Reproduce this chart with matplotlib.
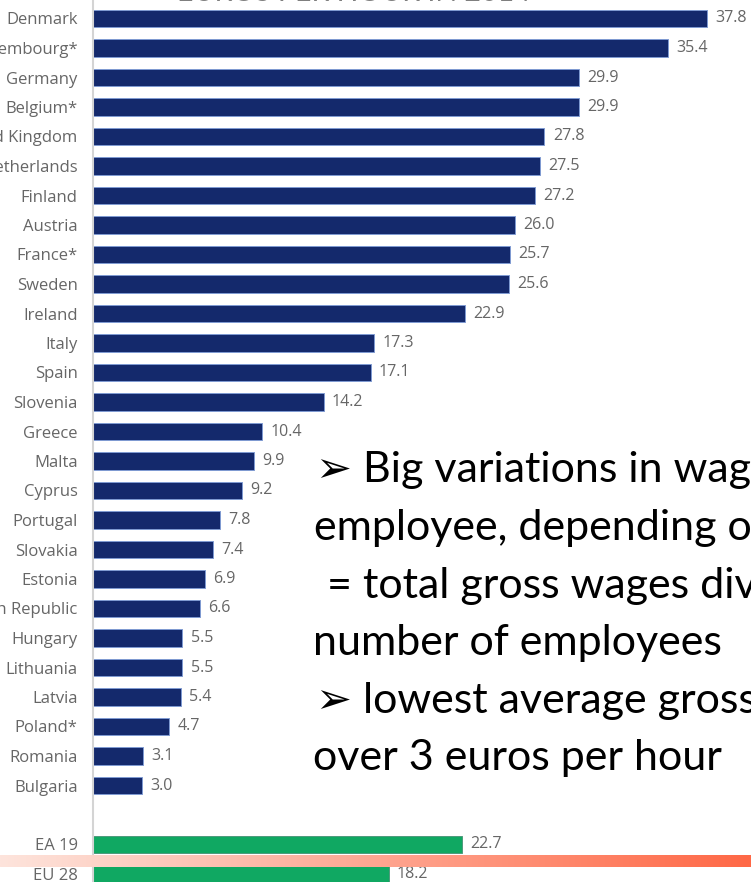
import numpy as np
import matplotlib
matplotlib.use("Agg")
import matplotlib.pyplot as plt

W, H, DPI = 751, 882, 100

countries = ["Denmark", "Luxembourg*", "Germany", "Belgium*", "United Kingdom",
             "Netherlands", "Finland", "Austria", "France*", "Sweden", "Ireland",
             "Italy", "Spain", "Slovenia", "Greece", "Malta", "Cyprus", "Portugal",
             "Slovakia", "Estonia", "Czech Republic", "Hungary", "Lithuania",
             "Latvia", "Poland*", "Romania", "Bulgaria"]
wages = [37.8, 35.4, 29.9, 29.9, 27.8, 27.5, 27.2, 26.0, 25.7, 25.6, 22.9,
         17.3, 17.1, 14.2, 10.4, 9.9, 9.2, 7.8, 7.4, 6.9, 6.6, 5.5, 5.5, 5.4,
         4.7, 3.1, 3.0]
aggregates = ["EA 19", "EU 28"]
aggregate_wages = [22.7, 18.2]

title = "EUROS PER HOUR IN 2014"
bullet_lines = ["\u27a2 Big variations in wages per",
                "employee, depending on country",
                " = total gross wages divided by",
                "number of employees",
                "\u27a2 lowest average gross wage just",
                "over 3 euros per hour"]

navy = "#14296c"
navy_edge = "#7f9bd2"
green = "#10a862"
green_edge = "#4f9a7c"
grey_text = "#666666"
label_font = ["Open Sans", "DejaVu Sans"]
body_font = ["Lato", "DejaVu Sans"]

fig = plt.figure(figsize=(W / DPI, H / DPI), dpi=DPI)
fig.patch.set_facecolor("white")

# chart axes: bars start at x=93 px, fill the rest of the width
ax_left = 93 / W
ax = fig.add_axes([ax_left, 0, 1 - ax_left, 1])
px_per_unit = 16.24
ax.set_xlim(0, (W - 93) / px_per_unit)
row0, step = 18.5, 29.5
ax.set_ylim((H - row0) / step, -row0 / step)

pos_c = np.arange(len(countries))
pos_a = np.array([len(countries) + 1, len(countries) + 2])

ax.barh(pos_c, wages, height=0.59, color=navy, edgecolor=navy_edge, linewidth=0.7)
ax.barh(pos_a, aggregate_wages, height=0.59, color=green, edgecolor=green_edge, linewidth=0.7)

for p, v in list(zip(pos_c, wages)) + list(zip(pos_a, aggregate_wages)):
    ax.annotate(f"{v:.1f}", (v, p), xytext=(6, 0), textcoords="offset points",
                ha="left", va="center", fontsize=11.5, color=grey_text, family=label_font)

ax.set_yticks(np.concatenate([pos_c, pos_a]))
ax.set_yticklabels(countries + aggregates, fontsize=12, color=grey_text, family=label_font)
ax.tick_params(axis="y", length=0, pad=11)
ax.set_xticks([])
for s in ["top", "right", "bottom"]:
    ax.spines[s].set_visible(False)
ax.spines["left"].set_color("#d4d4d4")
ax.spines["left"].set_linewidth(1.5)

# chart title, mostly above the visible area
fig.text(354 / W, 1 - 1 / H, title, ha="center", va="baseline",
         fontsize=20.5, color="#7f7f7f", family=body_font)

# bullet text on top of the chart
x_starts = [316, 314, 316, 313, 316, 313]
baselines = [482, 540, 598, 655, 713, 770]
for txt, x0, yb in zip(bullet_lines, x_starts, baselines):
    fig.text(x0 / W, 1 - yb / H, txt, ha="left", va="baseline",
             fontsize=31, color="black", family=body_font)

# orange gradient band near the bottom
band = fig.add_axes([0, 1 - 867 / H, 1, 12 / H])
grad = np.linspace(0, 1, 256)
c0 = np.array([253, 228, 220]) / 255
c1 = np.array([255, 104, 70]) / 255
img = (c0[None, :] + (c1 - c0)[None, :] * grad[:, None])[None, :, :]
band.imshow(img, aspect="auto", extent=[0, 1, 0, 1])
band.set_axis_off()

fig.savefig("out.png", dpi=DPI)
